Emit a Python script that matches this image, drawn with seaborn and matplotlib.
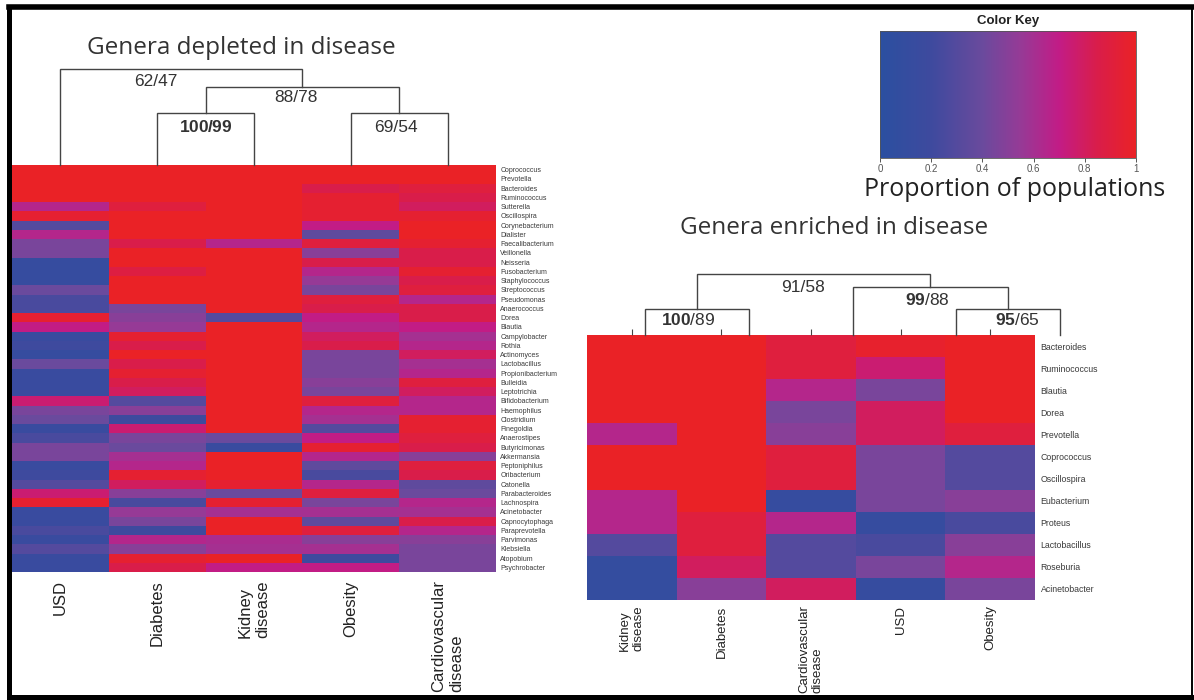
import numpy as np
import pandas as pd
import matplotlib
matplotlib.use("Agg")
import matplotlib.pyplot as plt
import seaborn as sns
from matplotlib.colors import LinearSegmentedColormap
from matplotlib.lines import Line2D

# ---------------- data ----------------
dep_genera = ["Coprococcus", "Prevotella", "Bacteroides", "Ruminococcus", "Sutterella",
              "Oscillospira", "Corynebacterium", "Dialister", "Faecalibacterium", "Veillonella",
              "Neisseria", "Fusobacterium", "Staphylococcus", "Streptococcus", "Pseudomonas",
              "Anaerococcus", "Dorea", "Blautia", "Campylobacter", "Rothia", "Actinomyces",
              "Lactobacillus", "Propionibacterium", "Bulleidia", "Leptotrichia", "Bifidobacterium",
              "Haemophilus", "Clostridium", "Finegoldia", "Anaerostipes", "Butyricimonas",
              "Akkermansia", "Peptoniphilus", "Oribacterium", "Catonella", "Parabacteroides",
              "Lachnospira", "Acinetobacter", "Capnocytophaga", "Paraprevotella", "Parvimonas",
              "Klebsiella", "Atopobium", "Psychrobacter"]
dep_groups = ["USD", "Diabetes", "Kidney\ndisease", "Obesity", "Cardiovascular\ndisease"]

dep_usd = [1, 1, 1, 1, 0.65, 0.95, 0.3, 0.65, 0.45, 0.45, 0.12, 0.12, 0.12, 0.4, 0.25, 0.25,
           0.95, 0.7, 0.15, 0.2, 0.12, 0.4, 0.15, 0.15, 0.15, 0.75, 0.45, 0.4, 0.15, 0.25,
           0.45, 0.45, 0.15, 0.2, 0.3, 0.75, 0.95, 0.15, 0.15, 0.25, 0.15, 0.3, 0.15, 0.15]
dep_diabetes = [1, 1, 1, 1, 0.9, 1, 1, 1, 0.85, 1, 1, 0.88, 1, 1, 1, 0.45, 0.5, 0.55, 0.95,
                0.85, 1, 0.85, 0.95, 0.85, 0.8, 0.3, 0.5, 0.2, 0.75, 0.45, 0.4, 0.6, 0.65,
                0.95, 0.8, 0.5, 0.25, 0.55, 0.45, 0.2, 0.65, 0.5, 0.95, 0.85]
dep_kidney = [1, 1, 1, 1, 1, 1, 1, 1, 0.65, 1, 1, 1, 1, 1, 1, 1, 0.3, 1, 1, 1, 1, 1,
              1, 1, 1, 1, 1, 1, 1, 0.4, 0.15, 1, 1, 1, 0.95, 0.4, 0.95, 0.6, 1, 1,
              0.62, 0.6, 1, 0.7]
dep_obesity = [1, 1, 0.85, 0.95, 0.95, 0.95, 0.7, 0.35, 0.9, 0.5, 0.85, 0.65, 0.55, 0.45,
               0.9, 0.85, 0.7, 0.65, 0.8, 0.85, 0.45, 0.45, 0.45, 0.5, 0.45, 0.9, 0.65, 0.6,
               0.3, 0.7, 0.95, 0.65, 0.35, 0.25, 0.65, 0.9, 0.45, 0.6, 0.35, 0.9, 0.5, 0.6,
               0.2, 0.7]
dep_cardio = [1, 1, 0.9, 0.85, 0.8, 0.95, 1, 1, 0.95, 0.85, 0.85, 0.95, 0.85, 0.9, 0.65,
              0.85, 0.85, 0.7, 0.6, 0.65, 0.8, 0.6, 0.65, 0.9, 0.8, 0.65, 0.65, 0.95, 0.95,
              0.9, 0.85, 0.5, 0.9, 0.85, 0.35, 0.4, 0.65, 0.6, 0.85, 0.65, 0.5, 0.45, 0.45,
              0.45]

enr_genera = ["Bacteroides", "Ruminococcus", "Blautia", "Dorea", "Prevotella", "Coprococcus",
              "Oscillospira", "Eubacterium", "Proteus", "Lactobacillus", "Roseburia",
              "Acinetobacter"]
enr_groups = ["Kidney\ndisease", "Diabetes", "Cardiovascular\ndisease", "USD", "Obesity"]
enr_kidney = [1, 1, 1, 1, 0.65, 1, 1, 0.65, 0.65, 0.3, 0.1, 0.1]
enr_diabetes = [1, 1, 1, 1, 1, 1, 1, 1, 0.9, 0.9, 0.8, 0.5]
enr_cardio = [0.9, 0.9, 0.65, 0.45, 0.5, 0.9, 0.9, 0.12, 0.65, 0.3, 0.3, 0.8]
enr_usd = [0.97, 0.75, 0.45, 0.8, 0.8, 0.45, 0.45, 0.45, 0.12, 0.25, 0.45, 0.12]
enr_obesity = [1, 1, 1, 1, 0.9, 0.3, 0.3, 0.5, 0.25, 0.5, 0.65, 0.45]

# dendrogram merges: (node a, node b, height); leaves 0..4, new nodes 5..8
dep_merges = [(1, 2, 0.54), (3, 4, 0.54), (5, 6, 0.81), (0, 7, 1.0)]
dep_support = [r"$\mathbf{100/99}$", "69/54", "88/78", "62/47"]
enr_merges = [(0, 1, 0.43), (3, 4, 0.43), (2, 6, 0.79), (5, 7, 1.0)]
enr_support = [r"$\mathbf{100}$/89", r"$\mathbf{95}$/65", r"$\mathbf{99}$/88", "91/58"]

key_ticks = [0, 0.2, 0.4, 0.6, 0.8, 1]
key_labels = ["0", "0.2", "0.4", "0.6", "0.8", "1"]

# ---------------- style ----------------
plt.rcParams['font.family'] = ['Liberation Sans', 'DejaVu Sans']
plt.rcParams['mathtext.fontset'] = 'custom'
plt.rcParams['mathtext.rm'] = 'Liberation Sans'
plt.rcParams['mathtext.bf'] = 'Liberation Sans:bold'

cmap = LinearSegmentedColormap.from_list(
    "key", [(0.0, "#2B4FA0"), (0.2, "#3E4A9E"), (0.4, "#6A4A9D"), (0.55, "#963A96"),
            (0.7, "#C21C86"), (0.85, "#D91D4A"), (1.0, "#EA2226")])

W, H = 1194, 700
fig = plt.figure(figsize=(W / 100, H / 100), dpi=100)


def box(x0, y0, x1, y1):
    return [x0 / W, 1 - y1 / H, (x1 - x0) / W, (y1 - y0) / H]


ax_l = fig.add_axes(box(12, 165, 496, 572))
ax_ld = fig.add_axes(box(12, 60, 496, 165))
ax_r = fig.add_axes(box(587, 335, 1035, 600))
ax_rd = fig.add_axes(box(593, 263, 1112, 335))
ax_k = fig.add_axes(box(880, 31, 1136, 158))

dep_df = pd.DataFrame({g: v for g, v in zip(dep_groups, [dep_usd, dep_diabetes, dep_kidney,
                                                          dep_obesity, dep_cardio])},
                      index=dep_genera)
enr_df = pd.DataFrame({g: v for g, v in zip(enr_groups, [enr_kidney, enr_diabetes, enr_cardio,
                                                          enr_usd, enr_obesity])},
                      index=enr_genera)

sns.heatmap(dep_df, ax=ax_l, cmap=cmap, vmin=0, vmax=1, cbar=True, cbar_ax=ax_k,
            cbar_kws=dict(orientation="horizontal", ticks=key_ticks),
            xticklabels=True, yticklabels=True)
sns.heatmap(enr_df, ax=ax_r, cmap=cmap, vmin=0, vmax=1, cbar=False,
            xticklabels=True, yticklabels=True)

# left heatmap labels
ax_l.yaxis.tick_right()
ax_l.set_yticklabels(dep_genera, rotation=0, fontsize=5, color="#3a3a3a")
ax_l.tick_params(axis="y", length=0, pad=3)
ax_l.set_xticklabels(dep_groups, rotation=90, fontsize=12, va="top", ha="center",
                     multialignment="left", linespacing=1.2, color="#222222")
ax_l.tick_params(axis="x", length=0, pad=6)
ax_l.set_xlabel("")
ax_l.set_ylabel("")

# right heatmap labels
ax_r.yaxis.tick_right()
ax_r.set_yticklabels(enr_genera, rotation=0, fontsize=6.3, color="#3a3a3a")
ax_r.tick_params(axis="y", length=0, pad=4)
ax_r.set_xticklabels(enr_groups, rotation=90, fontsize=9.5, va="top", ha="center",
                     multialignment="left", linespacing=1.15, color="#222222")
ax_r.tick_params(axis="x", top=True, bottom=False, labeltop=False, labelbottom=True,
                 length=4, width=0.8, color="#444444", pad=0)
ax_r.set_xlabel("")
ax_r.set_ylabel("")

# color key
cb = ax_l.collections[0].colorbar
cb.set_ticks(key_ticks)
cb.set_ticklabels(key_labels)
cb.outline.set_linewidth(0.6)
cb.outline.set_edgecolor("#555555")
ax_k.tick_params(axis="x", labelsize=7, colors="#555555", length=3, width=0.7, pad=1.5)
ax_k.set_title("Color Key", fontsize=9.5, fontweight="bold", color="#222222", pad=5)
fig.text(1015 / W, 1 - 190 / H, "Proportion of populations", fontsize=18,
         family=["Open Sans", "DejaVu Sans"], color="#222222", ha="center", va="center")


# dendrograms
def draw_dendro(ax, n, merges, labels, offsets, fs):
    pos = {i: i + 0.5 for i in range(n)}
    hgt = {i: 0.0 for i in range(n)}
    for k, (a, b, h) in enumerate(merges):
        xa, xb = pos[a], pos[b]
        ax.plot([xa, xa, xb, xb], [hgt[a], h, h, hgt[b]], color="#444444", lw=1,
                clip_on=False, solid_joinstyle="miter")
        pos[n + k] = (xa + xb) / 2
        hgt[n + k] = h
        dx, dy = offsets[k]
        ax.annotate(labels[k], xy=(pos[n + k], h), xytext=(dx, dy),
                    textcoords="offset pixels", ha="center", va="center",
                    fontsize=fs, color="#333333")
    ax.set_xlim(0, n)
    ax.axis("off")


draw_dendro(ax_ld, 5, dep_merges, dep_support,
            [(0, -14), (-3, -14), (-6, -10), (-26, -13)], 12.5)
ax_ld.set_ylim(0, 105 / 96)
draw_dendro(ax_rd, 5, enr_merges, enr_support,
            [(-9, -11), (9, -11), (-3, -13), (-11, -13)], 12.5)
ax_rd.set_ylim(0, 72 / 61)

# titles
fig.text(241 / W, 1 - 48 / H, "Genera depleted in disease", fontsize=17.5,
         family=["Open Sans", "DejaVu Sans"], color="#333333", ha="center", va="center")
fig.text(834 / W, 1 - 228 / H, "Genera enriched in disease", fontsize=17.5,
         family=["Open Sans", "DejaVu Sans"], color="#333333", ha="center", va="center")

# frame
def fline(x0, y0, x1, y1, lw):
    fig.add_artist(Line2D([x0 / W, x1 / W], [1 - y0 / H, 1 - y1 / H],
                          transform=fig.transFigure, color="black", lw=lw,
                          solid_capstyle="projecting"))


fline(9, 7, 1192, 7, 4.0)
fline(9, 7, 9, 697, 3.6)
fline(9, 697, 1192, 697, 3.6)
fline(1192, 7, 1192, 697, 1.4)

fig.savefig("out.png", dpi=100, facecolor="white")
